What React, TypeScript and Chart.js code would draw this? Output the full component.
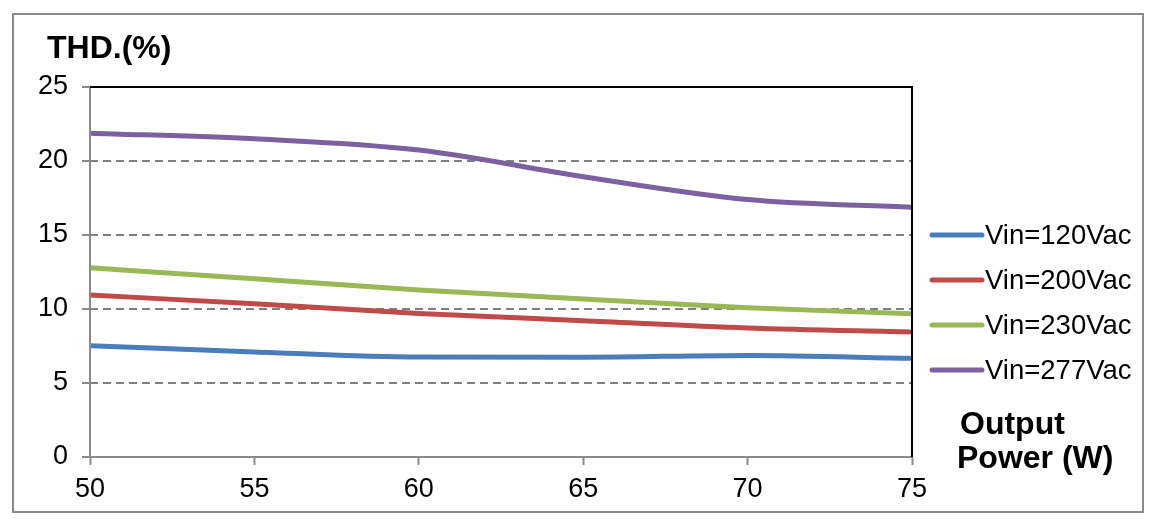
import React, { useEffect, useRef } from "react";
import { Chart, registerables } from "chart.js";

Chart.register(...registerables);

const xValues = [50, 55, 60, 65, 70, 75];
const vin120 = [7.52, 7.1, 6.75, 6.74, 6.86, 6.67];
const vin200 = [10.95, 10.35, 9.7, 9.21, 8.72, 8.45];
const vin230 = [12.78, 12.05, 11.28, 10.68, 10.08, 9.68];
const vin277 = [21.88, 21.5, 20.74, 18.94, 17.4, 16.87];
const seriesLabels = ["Vin=120Vac", "Vin=200Vac", "Vin=230Vac", "Vin=277Vac"];
const seriesColors = ["#4A7EBB", "#BE4B48", "#98B954", "#7D60A0"];
const yTitle = "THD.(%)";
const xTitleLines = ["Output", "Power (W)"];

const W = 1157;
const H = 526;
const FONT = "'Liberation Sans', Arial, sans-serif";

const decorPlugin = {
  id: "decor",
  beforeDraw(chart: any) {
    const ctx = chart.ctx;
    ctx.save();
    ctx.fillStyle = "#ffffff";
    ctx.fillRect(0, 0, W, H);
    ctx.strokeStyle = "#8a8a8a";
    ctx.lineWidth = 2;
    ctx.strokeRect(13, 14, 1130, 498);
    ctx.restore();
  },
  afterDatasetsDraw(chart: any) {
    const ctx = chart.ctx;
    const a = chart.chartArea;
    ctx.save();
    ctx.setLineDash([]);
    ctx.strokeStyle = "#8a8a8a";
    ctx.lineWidth = 2;
    ctx.beginPath();
    ctx.moveTo(a.left, a.top);
    ctx.lineTo(a.left, a.bottom);
    ctx.lineTo(a.right, a.bottom);
    ctx.stroke();
    ctx.strokeStyle = "#000000";
    ctx.beginPath();
    ctx.moveTo(a.left, a.top);
    ctx.lineTo(a.right, a.top);
    ctx.lineTo(a.right, a.bottom);
    ctx.stroke();
    ctx.restore();
  },
  afterDraw(chart: any) {
    const ctx = chart.ctx;
    ctx.save();
    ctx.fillStyle = "#000";
    ctx.font = `bold 32px ${FONT}`;
    ctx.textAlign = "left";
    ctx.textBaseline = "alphabetic";
    ctx.fillText(yTitle, 47, 58);
    ctx.fillText(xTitleLines[0], 960, 434);
    ctx.fillText(xTitleLines[1], 957, 468);
    ctx.font = `27.5px ${FONT}`;
    ctx.textBaseline = "middle";
    chart.data.datasets.forEach((ds: any, i: number) => {
      const y = 235 + i * 45;
      ctx.strokeStyle = ds.borderColor;
      ctx.lineWidth = 5;
      ctx.lineCap = "round";
      ctx.beginPath();
      ctx.moveTo(932, y);
      ctx.lineTo(982, y);
      ctx.stroke();
      ctx.fillStyle = "#000";
      ctx.fillText(ds.label, 985, y + 1);
    });
    ctx.restore();
  },
};

export default function App() {
  const ref = useRef<HTMLCanvasElement | null>(null);
  useEffect(() => {
    document.body.style.margin = "0";
    const canvas = ref.current!;
    const seriesData = [vin120, vin200, vin230, vin277];
    const chart = new Chart(canvas, {
      type: "line",
      data: {
        datasets: seriesData.map((vals, i) => ({
          label: seriesLabels[i],
          data: xValues.map((x, j) => ({ x, y: vals[j] })),
          borderColor: seriesColors[i],
          backgroundColor: seriesColors[i],
          borderWidth: 5,
          pointRadius: 0,
          cubicInterpolationMode: "monotone" as const,
          fill: false,
        })),
      },
      options: {
        animation: false,
        responsive: false,
        maintainAspectRatio: false,
        layout: { padding: { left: 0, top: 87, right: 245, bottom: 0 } },
        plugins: {
          legend: { display: false },
          tooltip: { enabled: false },
        },
        scales: {
          x: {
            type: "linear",
            min: 50,
            max: 75,
            afterFit: (s: any) => {
              s.height = 69;
            },
            ticks: {
              stepSize: 5,
              color: "#000",
              font: { family: FONT, size: 27 },
              padding: 8,
              maxRotation: 0,
            },
            grid: {
              drawOnChartArea: false,
              drawTicks: true,
              tickLength: 8,
              tickColor: "#8a8a8a",
              tickWidth: 2,
            },
            border: { display: false },
          },
          y: {
            type: "linear",
            min: 0,
            max: 25,
            afterFit: (s: any) => {
              s.width = 90;
            },
            ticks: {
              stepSize: 5,
              color: "#000",
              font: { family: FONT, size: 27 },
              padding: 14,
            },
            grid: {
              color: (c: any) =>
                c.tick && (c.tick.value === 0 || c.tick.value === 25)
                  ? "rgba(0,0,0,0)"
                  : "#808080",
              lineWidth: 2,
              drawTicks: true,
              tickLength: 8,
              tickColor: "#8a8a8a",
              tickWidth: 2,
              tickBorderDash: [],
            },
            border: { display: false, dash: [8, 5] },
          },
        },
      },
      plugins: [decorPlugin],
    });
    return () => chart.destroy();
  }, []);
  return (
    <div style={{ width: W, height: H, position: "relative" }}>
      <canvas ref={ref} width={W} height={H} style={{ width: W, height: H, display: "block" }} />
    </div>
  );
}
